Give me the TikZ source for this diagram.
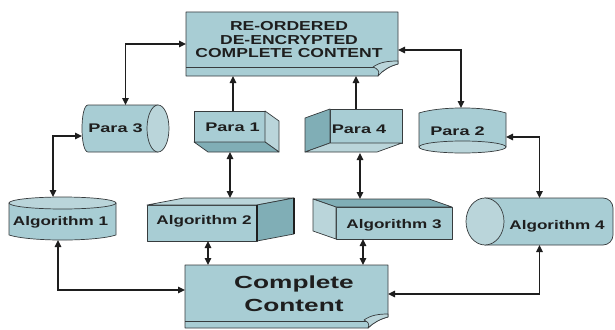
\documentclass[tikz,border=0pt]{standalone}
\usepackage{fontspec}
\setmainfont{Liberation Sans}
\usepackage{graphicx}
\usetikzlibrary{arrows.meta}
\definecolor{bmain}{RGB}{168,205,212}
\definecolor{bdark}{RGB}{128,174,182}
\definecolor{blight}{RGB}{186,213,218}
\definecolor{edgec}{RGB}{55,60,62}
\definecolor{ink}{RGB}{30,30,30}
\newcommand{\wtxt}[2]{\scalebox{#1}[1]{#2}}
\begin{document}
\begin{tikzpicture}[x=1pt,y=-1pt,
 face/.style={fill=bmain,draw=edgec,line width=0.7pt,line join=round},
 dface/.style={fill=bdark,draw=edgec,line width=0.7pt,line join=round},
 lface/.style={fill=blight,draw=edgec,line width=0.7pt,line join=round},
 hold/.style={draw=none,inner sep=0pt,outer sep=0pt,rectangle},
 lbl/.style={font=\fontsize{12.5}{14}\selectfont\bfseries,text=ink,inner sep=0pt,anchor=base},
 toplbl/.style={font=\fontsize{13}{14}\selectfont\bfseries,text=ink,inner sep=0pt,anchor=base},
 biglbl/.style={font=\fontsize{17.5}{20}\selectfont\bfseries,text=ink,inner sep=0pt,anchor=base},
 biarrow/.style={draw=ink,line width=1.4pt,{Triangle[length=7pt,width=6.5pt]}-{Triangle[length=7pt,width=6.5pt]}},
 uniarrow/.style={draw=ink,line width=1.4pt,-{Triangle[length=7pt,width=6.5pt]}}]
\fill[white] (0,0) rectangle (615,329);
\useasboundingbox (0,0) rectangle (615,329);

% ---- top box
\path[face] (186,12) -- (398,12) -- (398,64) .. controls (390,66) and (383,70) .. (378,76) -- (186,76) -- cycle;
\draw[edgec,line width=0.7pt] (186,67) -- (382,67);
\path[lface] (373,67) .. controls (380,62) and (388,61) .. (398,61) -- (398,64) .. controls (390,66) and (383,70) .. (378,76) .. controls (380,71) and (378,69) .. (373,67) -- cycle;
% ---- complete content
\path[face] (185,265) -- (388,265) -- (388,317) .. controls (380,319) and (373,323) .. (368,328) -- (185,328) -- cycle;
\draw[edgec,line width=0.7pt] (185,321) -- (373,321);
\path[lface] (364,320) .. controls (371,315) and (379,314) .. (388,314) -- (388,317) .. controls (380,319) and (373,323) .. (368,328) .. controls (370,324) and (368,322) .. (364,320) -- cycle;
% ---- Para 3
\path[face] (158,105) -- (88,105) .. controls (80,105) and (80,152) .. (88,152) -- (158,152) -- cycle;
\path[lface] (158,128.5) ellipse [x radius=11, y radius=23.5];
% ---- Para 1
\path[face] (194,111) rectangle (265,142);
\path[lface] (265,111) -- (279,121) -- (279,152) -- (265,142) -- cycle;
\path[dface] (194,142) -- (265,142) -- (279,152) -- (208,152) -- cycle;
% ---- Para 4
\path[face] (330,109) rectangle (402,143);
\path[dface] (330,109) -- (305,118) -- (305,152) -- (330,143) -- cycle;
\path[lface] (330,143) -- (402,143) -- (377,152) -- (305,152) -- cycle;
% ---- Para 2
\path[face] (419,113) .. controls (440,106.3) and (485,106.3) .. (506,113) -- (506,147) -- (419,147) -- cycle;
\path[lface] (462.5,147) ellipse [x radius=43.5, y radius=6];
% ---- Algorithm 1
\path[face] (9,203) -- (9,235) .. controls (30,241.7) and (95,241.7) .. (116,235) -- (116,203) -- cycle;
\path[lface] (62.5,203) ellipse [x radius=53.5, y radius=6];
% ---- Algorithm 2
\path[face] (147,205) rectangle (257,241);
\path[lface] (147,205) -- (184,198) -- (294,198) -- (257,205) -- cycle;
\path[dface] (257,205) -- (294,198) -- (294,234) -- (257,241) -- cycle;
\draw[ink,line width=1.3pt] (257,205) -- (257,241) (294,198) -- (294,234);
% ---- Algorithm 3
\path[face] (336,207) rectangle (452,239);
\path[dface] (336,207) -- (313,199) -- (429,199) -- (452,207) -- cycle;
\path[lface] (336,207) -- (313,199) -- (313,231) -- (336,239) -- cycle;
% ---- Algorithm 4
\path[face] (485,198) [rounded corners=10pt] -- (613,198) -- (613,245) [sharp corners] -- (485,245) -- cycle;
\path[lface] (485,221.5) ellipse [x radius=19, y radius=23.5];

% ---- holder nodes
\node[hold,minimum width=212pt,minimum height=64pt] (T) at (292,44) {};
\node[hold,minimum width=203pt,minimum height=63pt] (C) at (286.5,296.5) {};
\node[hold,minimum width=87pt,minimum height=47pt] (P3) at (125.5,128.5) {};
\node[hold,minimum width=85pt,minimum height=41pt] (P1) at (236.5,131.5) {};
\node[hold,minimum width=97pt,minimum height=44pt] (P4) at (353.5,131) {};
\node[hold,minimum width=87pt,minimum height=45pt] (P2) at (462.5,130.5) {};
\node[hold,minimum width=107pt,minimum height=43pt] (A1) at (62.5,218.5) {};
\node[hold,minimum width=147pt,minimum height=43pt] (A2) at (220.5,219.5) {};
\node[hold,minimum width=139pt,minimum height=40pt] (A3) at (382.5,219) {};
\node[hold,minimum width=147pt,minimum height=47pt] (A4) at (539.5,221.5) {};

% ---- attach points
\coordinate (p1t) at ([xshift=-3.5pt]P1.north);
\coordinate (p4t) at ([xshift=2.5pt]P4.north);
\coordinate (te) at ([yshift=-6pt]T.east);
\coordinate (p2n) at ([xshift=-1.5pt]P2.north);
\coordinate (a1t) at ([xshift=-9.5pt]A1.north);
\coordinate (p3w) at ([yshift=-7.5pt]P3.west);
\coordinate (p2e) at ([yshift=-6.5pt]P2.east);
\coordinate (p1b) at ([xshift=-6.5pt]P1.south);
\coordinate (p4b) at ([xshift=6.5pt]P4.south);
\coordinate (a2b) at ([xshift=-12.5pt]A2.south);
\coordinate (a3b) at ([xshift=-19.5pt]A3.south);
\coordinate (a1b) at ([xshift=-4.5pt]A1.south);
\coordinate (cw) at ([yshift=6.5pt]C.west);
\coordinate (ce) at ([yshift=2.5pt]C.east);

% ---- connectors
\draw[biarrow] (P3.north) |- (T.west);
\draw[biarrow] (te) -| (p2n);
\draw[uniarrow] (p1t) -- (p1t |- T.south);
\draw[uniarrow] (p4t) -- (p4t |- T.south);
\draw[biarrow] (a1t) |- (p3w);
\draw[biarrow] (p2e) -| (A4.north);
\draw[biarrow] (p1b) -- (p1b |- A2.north);
\draw[biarrow] (p4b) -- (p4b |- A3.north);
\draw[biarrow] (a2b) -- (a2b |- C.north);
\draw[biarrow] (a3b) -- (a3b |- C.north);
\draw[biarrow] (a1b) |- (cw);
\draw[biarrow] (A4.south) |- (ce);

% ---- labels
\node[toplbl] (t1) at (289,31) {\wtxt{1.35}{RE-ORDERED}};
\node[toplbl] (t2) at (289,44.5) {\wtxt{1.35}{DE-ENCRYPTED}};
\node[toplbl] (t3) at (289,58) {\wtxt{1.35}{COMPLETE CONTENT}};
\node[biglbl] (c1) at (294,288.5) {\wtxt{1.5}{Complete}};
\node[biglbl] (c2) at (294,311.5) {\wtxt{1.5}{Content}};
\node[lbl] (l3) at (115.5,132) {\wtxt{1.45}{Para 3}};
\node[lbl] (l1) at (232.5,131.5) {\wtxt{1.45}{Para 1}};
\node[lbl] (l4) at (359,133.5) {\wtxt{1.45}{Para 4}};
\node[lbl] (l2) at (457.5,135) {\wtxt{1.45}{Para 2}};
\node[lbl] (la1) at (60.5,225.5) {\wtxt{1.37}{Algorithm 1}};
\node[lbl] (la2) at (204,224.5) {\wtxt{1.37}{Algorithm 2}};
\node[lbl] (la3) at (394,228) {\wtxt{1.37}{Algorithm 3}};
\node[lbl] (la4) at (557,229) {\wtxt{1.37}{Algorithm 4}};
\end{tikzpicture}
\end{document}
